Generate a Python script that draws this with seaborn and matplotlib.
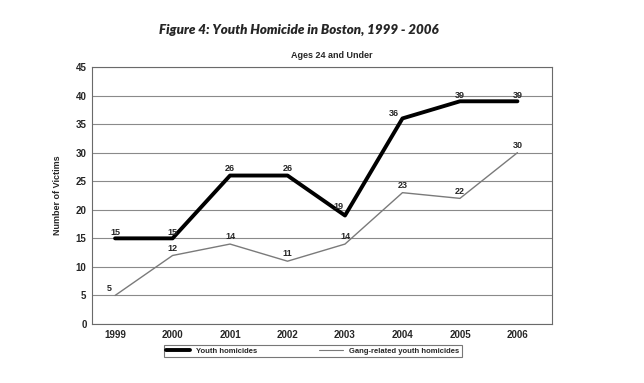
import matplotlib
matplotlib.use("Agg")
import matplotlib.pyplot as plt
import pandas as pd
import seaborn as sns

years = ["1999", "2000", "2001", "2002", "2003", "2004", "2005", "2006"]
youth = [15, 15, 26, 26, 19, 36, 39, 39]
gang = [5, 12, 14, 11, 14, 23, 22, 30]
series_names = ["Youth homicides", "Gang-related youth homicides"]

sns.set_theme(style="white")
plt.rcParams["font.family"] = ["Liberation Sans", "DejaVu Sans"]

df = pd.DataFrame({"year": years * 2,
                   "victims": youth + gang,
                   "series": [series_names[0]] * len(years) + [series_names[1]] * len(years)})

fig = plt.figure(figsize=(6.44, 3.83), dpi=100)
ax = fig.add_axes([0.143, 0.154, 0.714, 0.671])

sns.lineplot(data=df, x="year", y="victims", hue="series", size="series",
             palette={series_names[0]: "black", series_names[1]: "#7a7a7a"},
             sizes={series_names[0]: 2.8, series_names[1]: 1.0},
             ax=ax, legend=False, sort=False)

ax.set_ylim(0, 45)
ax.set_xlim(-0.4, 7.6)
ax.set_yticks(range(0, 46, 5))
ax.yaxis.grid(True, color="#8a8a8a", linewidth=0.8)
ax.xaxis.grid(False)
for s in ax.spines.values():
    s.set_color("#6a6a6a")
    s.set_linewidth(0.8)
ax.tick_params(axis="both", labelsize=7, length=0, pad=4)
for t in ax.get_xticklabels() + ax.get_yticklabels():
    t.set_fontweight("bold")
ax.set_xlabel("")
ax.set_ylabel("Number of Victims", fontsize=6.5, fontweight="bold", labelpad=10)

# value labels, sitting just above each point
youth_off = [(0, 1), (0, 1), (0, 1.5), (0, 1.5), (-5, 3), (-6, 0), (0, 1), (0, 1)]
gang_off = [(-4, 2), (0, 2), (0, 2), (0, 2), (0, 2), (0, 2), (0, 2), (0, 2)]
for i, (v, o) in enumerate(zip(youth, youth_off)):
    ax.annotate(str(v), (i, v), xytext=o, textcoords="offset points",
                ha="center", va="bottom", fontsize=6.5, fontweight="bold")
for i, (v, o) in enumerate(zip(gang, gang_off)):
    ax.annotate(str(v), (i, v), xytext=o, textcoords="offset points",
                ha="center", va="bottom", fontsize=6.5, fontweight="bold")

fig.text(0.464, 0.922, "Figure 4: Youth Homicide in Boston, 1999 - 2006",
         ha="center", va="center", fontsize=9.6, fontweight="heavy",
         fontstyle="italic", family=["Lato", "DejaVu Sans"])
fig.text(0.515, 0.856, "Ages 24 and Under", ha="center", va="center",
         fontsize=6.5, fontweight="bold")

handles = [plt.Line2D([], [], color="black", lw=2.8),
           plt.Line2D([], [], color="#7a7a7a", lw=0.8)]
leg = fig.legend(handles, series_names, loc="upper left", ncol=2,
                 bbox_to_anchor=(0.248, 0.108), fontsize=5.5, frameon=True,
                 fancybox=False, handlelength=3.2, columnspacing=8,
                 borderpad=0.3, handletextpad=0.8)
leg.get_frame().set_edgecolor("#555555")
leg.get_frame().set_linewidth(0.8)
for t in leg.get_texts():
    t.set_fontweight("bold")

fig.savefig("out.png", dpi=100)
